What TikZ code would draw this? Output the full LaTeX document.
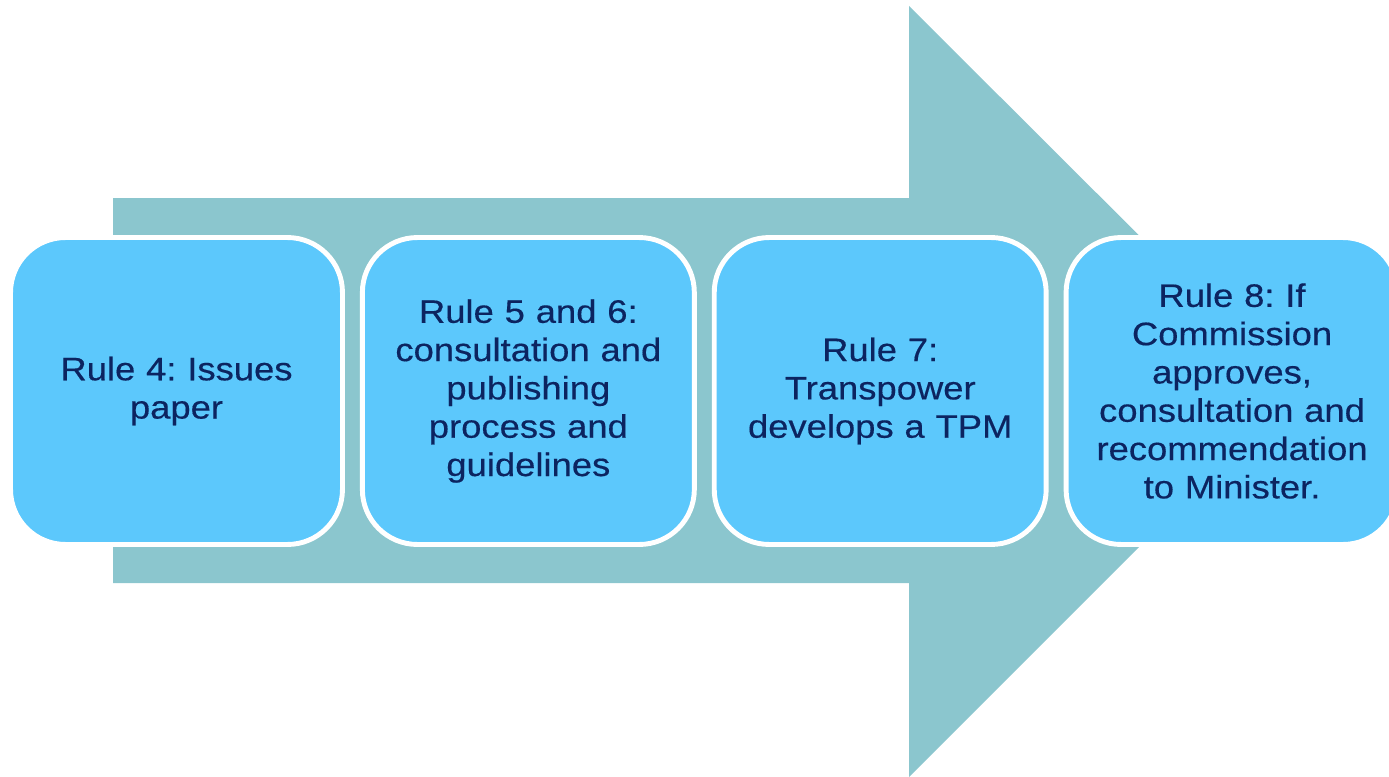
\documentclass[tikz,border=0pt]{standalone}
\usepackage{fontspec}
\setmainfont{Liberation Sans}[FakeStretch=1.12, FakeBold=0.4]
\usetikzlibrary{positioning}
\definecolor{arrowteal}{RGB}{139,198,206}
\definecolor{boxblue}{RGB}{92,200,252}
\definecolor{textnavy}{RGB}{12,36,96}
\frenchspacing

\begin{document}
\begin{tikzpicture}[x=0.02cm, y=-0.02cm,
    rulebox/.style={rectangle, rounded corners=1.1cm, fill=boxblue, draw=white,
        line width=2.8pt, minimum width=6.64cm, minimum height=6.14cm,
        text width=6.4cm, align=center, text=textnavy,
        font=\fontsize{18.5}{21.8}\selectfont},
    node distance=0.3cm]
            \useasboundingbox (0,0) rectangle (1389,777);
            \clip (0,0) rectangle (1389,777);

            \coordinate (sl) at (113, 198);
            \coordinate (sr) at (909, 198);
            \coordinate (ht) at (909, 6);
            \coordinate (tip) at (1295, 391);
            \coordinate (hb) at (909, 777);
            \coordinate (br) at (909, 583);
            \coordinate (bl) at (113, 583);

            \fill[arrowteal] (sl) -- (sr) -- (ht) -- (tip) -- (hb) -- (br) -- (bl) -- cycle;

            \node[rulebox] (r4) at (176.5, 391) {Rule 4: Issues\\paper};
            \node[rulebox, right=of r4] (r56) {Rule 5 and 6:\\consultation and\\publishing\\process and\\guidelines};
            \node[rulebox, right=of r56] (r7) {Rule 7:\\Transpower\\develops a TPM};
            \node[rulebox, right=of r7] (r8) {Rule 8: If\\Commission\\approves,\\consultation and\\recommendation\\to Minister.};
        \end{tikzpicture}
\end{document}
